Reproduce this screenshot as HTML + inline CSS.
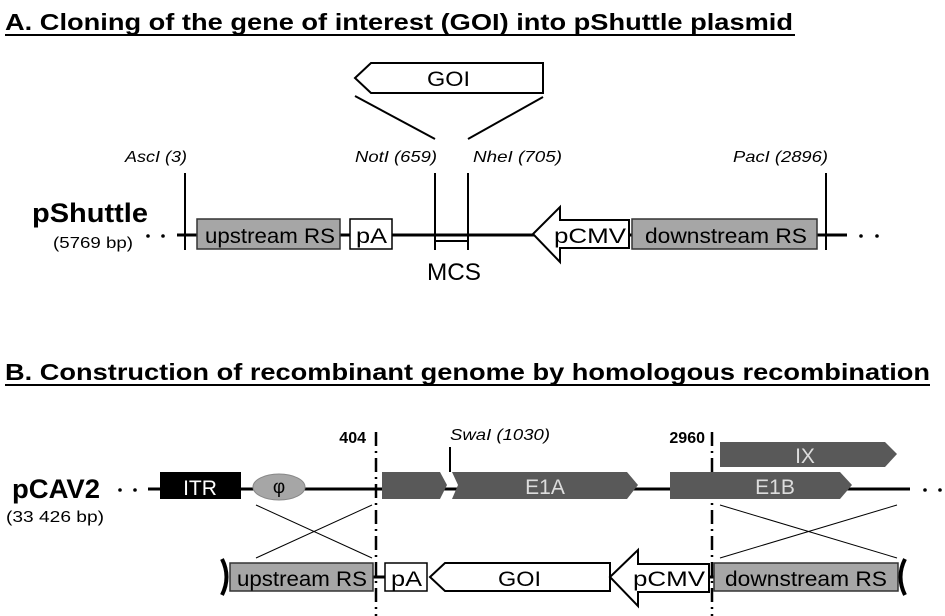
<!DOCTYPE html>
<html><head><meta charset="utf-8"><style>
html,body{margin:0;padding:0;background:#fff;}
svg{display:block;font-family:"Liberation Sans",sans-serif;}
</style></head><body>
<svg width="945" height="616" viewBox="0 0 945 616" xmlns="http://www.w3.org/2000/svg">
<!-- Titles -->
<text x="5" y="30" font-size="23" font-weight="bold" textLength="788" lengthAdjust="spacingAndGlyphs">A. Cloning of the gene of interest (GOI) into pShuttle plasmid</text>
<line x1="5" y1="35" x2="795" y2="35" stroke="#000" stroke-width="2"/>
<text x="5" y="380" font-size="23" font-weight="bold" textLength="925" lengthAdjust="spacingAndGlyphs">B. Construction of recombinant genome by homologous recombination</text>
<line x1="5" y1="385" x2="930" y2="385" stroke="#000" stroke-width="2"/>

<!-- Part A -->
<text x="32" y="222" font-size="27" font-weight="bold" textLength="116" lengthAdjust="spacingAndGlyphs">pShuttle</text>
<text x="53" y="248" font-size="16" textLength="80" lengthAdjust="spacingAndGlyphs">(5769 bp)</text>
<circle cx="148" cy="236" r="1.8"/><circle cx="163" cy="236" r="1.8"/>
<circle cx="861" cy="236" r="1.8"/><circle cx="877" cy="236" r="1.8"/>
<line x1="177" y1="235" x2="847" y2="235" stroke="#000" stroke-width="3"/>
<line x1="185" y1="173" x2="185" y2="250" stroke="#000" stroke-width="2"/>
<line x1="435" y1="173" x2="435" y2="250" stroke="#000" stroke-width="2"/>
<line x1="468" y1="173" x2="468" y2="250" stroke="#000" stroke-width="2"/>
<line x1="826" y1="173" x2="826" y2="250" stroke="#000" stroke-width="2"/>
<line x1="435" y1="241" x2="468" y2="241" stroke="#000" stroke-width="2"/>
<text x="125" y="162" font-size="16" font-style="italic" textLength="62" lengthAdjust="spacingAndGlyphs">AscI (3)</text>
<text x="355" y="162" font-size="16" font-style="italic" textLength="82" lengthAdjust="spacingAndGlyphs">NotI (659)</text>
<text x="473" y="162" font-size="16" font-style="italic" textLength="89" lengthAdjust="spacingAndGlyphs">NheI (705)</text>
<text x="733" y="162" font-size="16" font-style="italic" textLength="95" lengthAdjust="spacingAndGlyphs">PacI (2896)</text>
<rect x="197" y="219" width="143" height="30" fill="#a6a6a6" stroke="#333" stroke-width="1.5"/>
<text x="205" y="243" font-size="21" textLength="130" lengthAdjust="spacingAndGlyphs">upstream RS</text>
<rect x="350" y="219" width="42" height="30" fill="#fff" stroke="#000" stroke-width="1.5"/>
<text x="356" y="243" font-size="21" textLength="31" lengthAdjust="spacingAndGlyphs">pA</text>
<text x="427" y="280" font-size="24" textLength="54" lengthAdjust="spacingAndGlyphs">MCS</text>
<polygon points="355,78 371,63 543,63 543,93 371,93" fill="#fff" stroke="#000" stroke-width="2"/>
<text x="427" y="86" font-size="21" textLength="43" lengthAdjust="spacingAndGlyphs">GOI</text>
<line x1="355" y1="96" x2="435" y2="139" stroke="#000" stroke-width="2"/>
<line x1="543" y1="97" x2="468" y2="139" stroke="#000" stroke-width="2"/>
<polygon points="533,234 560,207 560,220 629,220 629,248 560,248 560,262" fill="#fff" stroke="#000" stroke-width="2"/>
<text x="554" y="243" font-size="21" textLength="72" lengthAdjust="spacingAndGlyphs">pCMV</text>
<rect x="632" y="219" width="185" height="30" fill="#a6a6a6" stroke="#333" stroke-width="1.5"/>
<text x="645" y="243" font-size="21" textLength="162" lengthAdjust="spacingAndGlyphs">downstream RS</text>

<!-- Part B -->
<text x="12" y="498" font-size="27" font-weight="bold" textLength="88" lengthAdjust="spacingAndGlyphs">pCAV2</text>
<text x="6" y="522" font-size="16" textLength="98" lengthAdjust="spacingAndGlyphs">(33 426 bp)</text>
<circle cx="120" cy="490" r="1.8"/><circle cx="135" cy="490" r="1.8"/>
<circle cx="925" cy="490" r="1.8"/><circle cx="940" cy="490" r="1.8"/>
<line x1="148" y1="489" x2="910" y2="489" stroke="#000" stroke-width="3"/>
<rect x="160" y="472" width="81" height="27" fill="#000"/>
<text x="200" y="495" font-size="21" fill="#fff" text-anchor="middle">ITR</text>
<ellipse cx="279" cy="487" rx="26" ry="13" fill="#a6a6a6" stroke="#888" stroke-width="1"/>
<text x="279" y="493" font-size="19" text-anchor="middle">φ</text>
<line x1="376" y1="432" x2="376" y2="616" stroke="#000" stroke-width="2.5" stroke-dasharray="14,5,2,5"/>
<line x1="712" y1="432" x2="712" y2="616" stroke="#000" stroke-width="2.5" stroke-dasharray="14,5,2,5"/>
<text x="366" y="443" font-size="16" font-weight="bold" text-anchor="end">404</text>
<text x="705" y="443" font-size="16" font-weight="bold" text-anchor="end">2960</text>
<text x="450" y="440" font-size="16" font-style="italic" textLength="100" lengthAdjust="spacingAndGlyphs">SwaI (1030)</text>
<line x1="450" y1="447" x2="450" y2="472" stroke="#000" stroke-width="2"/>
<polygon points="382,472 440,472 447,485 440,499 382,499" fill="#595959"/>
<polygon points="452,472 627,472 638,485 627,499 452,499 458,485" fill="#595959"/>
<text x="545" y="494" font-size="21" fill="#ddd" text-anchor="middle">E1A</text>
<polygon points="670,472 840,472 852,485 840,499 670,499" fill="#595959"/>
<text x="775" y="494" font-size="21" fill="#ddd" text-anchor="middle">E1B</text>
<polygon points="720,442 885,442 897,454 885,467 720,467" fill="#595959"/>
<text x="805" y="463" font-size="21" fill="#ddd" text-anchor="middle">IX</text>
<line x1="256" y1="505" x2="372" y2="558" stroke="#000" stroke-width="1"/>
<line x1="256" y1="558" x2="372" y2="505" stroke="#000" stroke-width="1"/>
<line x1="720" y1="505" x2="897" y2="558" stroke="#000" stroke-width="1"/>
<line x1="720" y1="558" x2="897" y2="505" stroke="#000" stroke-width="1"/>
<!-- bottom construct -->
<line x1="373" y1="577" x2="385" y2="577" stroke="#000" stroke-width="3"/>
<line x1="709" y1="577" x2="714" y2="577" stroke="#000" stroke-width="3"/>
<path d="M222,559 Q231,577 222,595" fill="none" stroke="#000" stroke-width="4"/>
<path d="M905,559 Q896,577 905,595" fill="none" stroke="#000" stroke-width="4"/>
<rect x="230" y="563" width="143" height="28" fill="#a6a6a6" stroke="#333" stroke-width="1.5"/>
<text x="237" y="586" font-size="21" textLength="130" lengthAdjust="spacingAndGlyphs">upstream RS</text>
<rect x="385" y="563" width="42" height="28" fill="#fff" stroke="#000" stroke-width="1.5"/>
<text x="391" y="586" font-size="21" textLength="31" lengthAdjust="spacingAndGlyphs">pA</text>
<polygon points="430,577 445,563 610,563 610,591 445,591" fill="#fff" stroke="#000" stroke-width="2"/>
<text x="498" y="586" font-size="21" textLength="43" lengthAdjust="spacingAndGlyphs">GOI</text>
<polygon points="610,577 638,550 638,564 709,564 709,592 638,592 638,606" fill="#fff" stroke="#000" stroke-width="2"/>
<text x="633" y="586" font-size="21" textLength="72" lengthAdjust="spacingAndGlyphs">pCMV</text>
<rect x="714" y="563" width="184" height="28" fill="#a6a6a6" stroke="#333" stroke-width="1.5"/>
<text x="725" y="586" font-size="21" textLength="162" lengthAdjust="spacingAndGlyphs">downstream RS</text>
</svg>
</body></html>
